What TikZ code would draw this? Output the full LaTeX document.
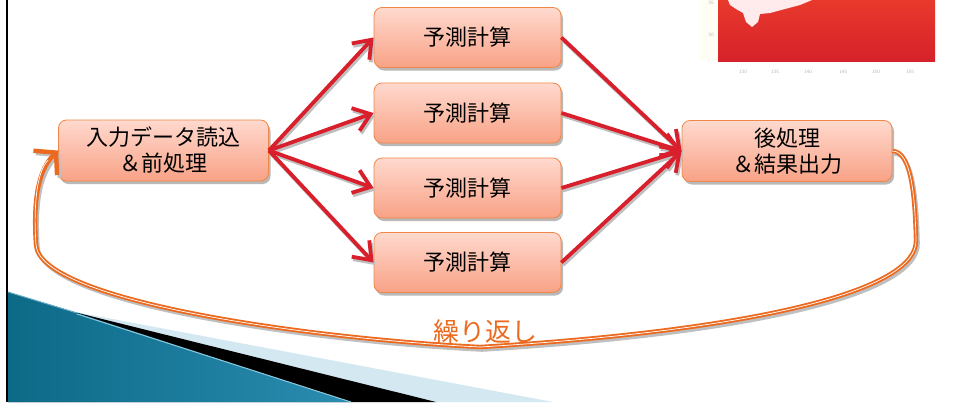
\documentclass[tikz,border=0pt]{standalone}
\usepackage{fontspec}
\newfontfamily\jp{Noto Sans CJK JP}
\usetikzlibrary{arrows.meta,shadows}
\definecolor{arrowred}{HTML}{D91F2C}
\definecolor{looporange}{HTML}{EC6A1F}
\definecolor{boxtop}{HTML}{FFD9CE}
\definecolor{boxbot}{HTML}{F8A286}
\definecolor{boxedge}{HTML}{EF8748}
\definecolor{tealdark}{HTML}{0D6A87}
\definecolor{teallight}{HTML}{57B8D9}
\definecolor{tealmid}{HTML}{2A8CB0}
\definecolor{tealedge}{HTML}{8CC8DE}
\definecolor{paleblue}{HTML}{D3E8F0}
\definecolor{mapredtop}{HTML}{E8392C}
\definecolor{mapredbot}{HTML}{D6222A}
\begin{document}
\begin{tikzpicture}[x=1pt,y=-1pt,
  box/.style={rectangle, rounded corners=8pt, draw=boxedge, line width=0.8pt,
    top color=boxtop, bottom color=boxbot, inner sep=0pt, align=center,
    font=\jp\fontsize{22}{26}\selectfont,
    drop shadow={shadow xshift=2pt, shadow yshift=-3pt, fill=gray!55, opacity=1}},
  calcbox/.style={box, minimum width=187pt, minimum height=60pt},
  endbox/.style={box, minimum width=210pt, minimum height=61pt},
  flow/.style={draw=arrowred, line width=3.8pt, -{Straight Barb[length=16pt,width=24pt]}},
  flowshadow/.style={flow, draw=gray!50, transform canvas={shift={(1.5pt,-2.5pt)}}},
  loopline/.style={draw=looporange, line width=4.4pt, -{Straight Barb[length=15pt,width=34pt]}},
  loopstripe/.style={draw=white, line width=0.7pt, shorten >=14pt},
  loopshadow/.style={draw=gray!50, line width=3.6pt, -{Straight Barb[length=15pt,width=34pt]},
    transform canvas={shift={(2pt,-3pt)}}},
  looplabel/.style={text=looporange, font=\jp\fontsize{26}{30}\selectfont, inner sep=0pt},
  maplabel/.style={text=gray!55, font=\sffamily\fontsize{5}{6}\selectfont, inner sep=0pt}
]
\useasboundingbox (0,0) rectangle (961,402);
\fill[white] (0,0) rectangle (961,402);

% page-curl corner, bottom left
\fill[paleblue] (70,311) -- (553,402) -- (8,402) -- cycle;
\fill[black] (70,311) -- (436,402) -- (8,402) -- cycle;
\shade[left color=tealdark, middle color=teallight, right color=tealmid]
  (8,292) -- (77,313) -- (351,402) -- (8,402) -- cycle;
\draw[tealedge, line width=1pt] (77,314) -- (351,402);
\draw[tealedge!70!tealdark, line width=1pt] (8,292) -- (77,313);

% left page border
\draw[black, line width=2.5pt] (7,0) -- (7,402);

% small temperature map, top right
\shade[top color=mapredtop, bottom color=mapredbot] (718,0) rectangle (935,61);
\fill[white!92!red] (728,0) -- (812,0) -- (800,5) -- (785,9) -- (770,13) -- (760,14)
  -- (758,22) -- (752,27) -- (746,22) -- (743,13) -- (736,9) -- (730,5) -- cycle;
\fill[white!96!yellow] (700,0) rectangle (717,61);
\node[maplabel] (lat1) at (711,3) {35};
\node[maplabel] (lat2) at (711,35) {30};
\foreach \lon/\px in {130/743,135/775,140/808,145/843,150/876,155/910}
  \node[maplabel] (lon\lon) at (\px,72) {\lon};

% processing boxes
\node[endbox] (in) at (163.5,150.5) {入力データ読込\\＆前処理};
\node[calcbox] (p1) at (467.5,37.5) {予測計算};
\node[calcbox] (p2) at (467.5,113) {予測計算};
\node[calcbox] (p3) at (467.5,188) {予測計算};
\node[calcbox] (p4) at (467.5,262.5) {予測計算};
\node[endbox] (out) at (787,151) {後処理\\＆結果出力};

% fan-out and fan-in arrows
\foreach \p in {p1,p2,p3,p4} {
  \draw[flowshadow] (in.east) -- (\p.west);
  \draw[flowshadow] (\p.east) -- (out.west);
}
\foreach \p in {p1,p2,p3,p4} {
  \draw[flow] (in.east) -- (\p.west);
  \draw[flow] (\p.east) -- (out.west);
}

% repeat loop
\coordinate (l1) at (916,240);
\coordinate (l2) at (480,347);
\coordinate (l3) at (36,245);
\draw[loopshadow] (out.east) .. controls (912,151) and (915,200) .. (l1)
  .. controls (918,290) and (760,330) .. (l2)
  .. controls (300,338) and (40,300) .. (l3)
  .. controls (33,200) and (38,170) .. (in.west);
\draw[loopline] (out.east) .. controls (912,151) and (915,200) .. (l1)
  .. controls (918,290) and (760,330) .. (l2)
  .. controls (300,338) and (40,300) .. (l3)
  .. controls (33,200) and (38,170) .. (in.west);
\draw[loopstripe] (out.east) .. controls (912,151) and (915,200) .. (l1)
  .. controls (918,290) and (760,330) .. (l2)
  .. controls (300,338) and (40,300) .. (l3)
  .. controls (33,200) and (38,170) .. (in.west);
\node[looplabel, anchor=base] (rep) at (485,341) {繰り返し};
\end{tikzpicture}
\end{document}
